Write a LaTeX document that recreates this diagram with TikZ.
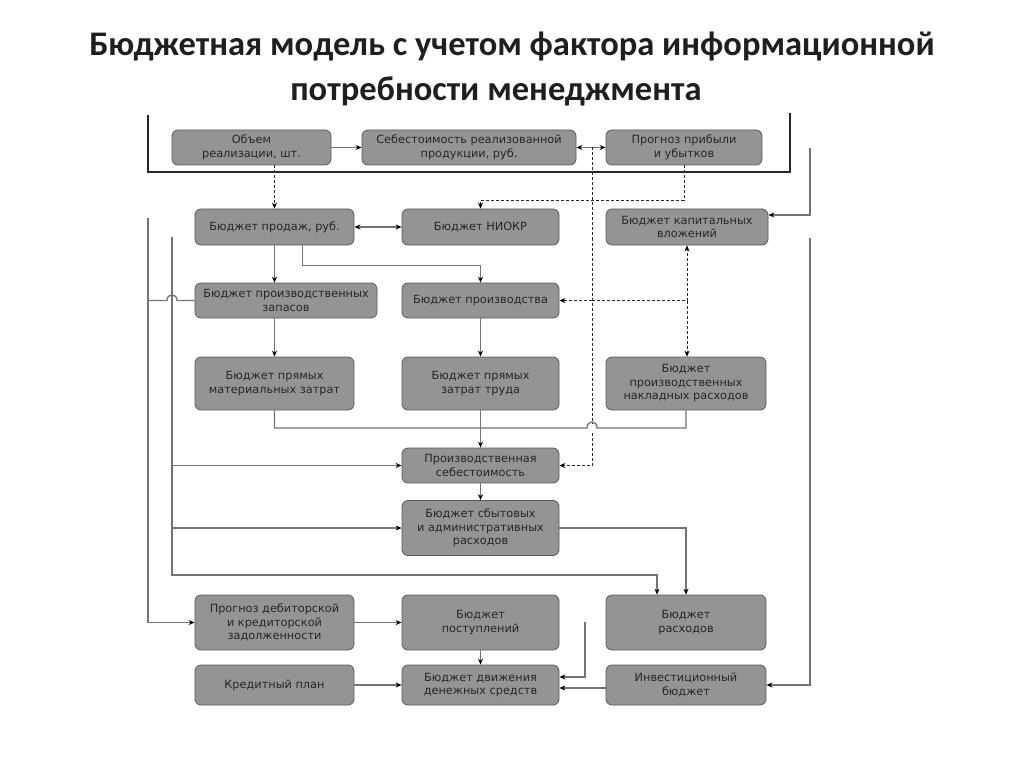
\documentclass[tikz,border=0pt]{standalone}
\usepackage{fontspec}
\setmainfont{DejaVu Sans}
\newfontfamily\titlefont{Carlito}
\usepackage{tikz}
\usetikzlibrary{arrows.meta}
\tikzstyle{blk} = [draw=black!65, fill=black!42, rounded corners=6pt, line width=0.8pt, align=center, text=black!85, font={\fontsize{11.3}{13.5}\selectfont}, inner sep=1pt]
\tikzstyle{wire} = [draw=black!55, line width=1.3pt]
\tikzstyle{dwire} = [draw=black!85, line width=0.7pt, dash pattern=on 3pt off 2pt]
\tikzstyle{frame} = [draw=black!85, line width=1.8pt]
\tikzstyle{heading} = [font={\titlefont\bfseries\fontsize{34.5}{40}\selectfont}, text=black!88]

\begin{document}
\begin{tikzpicture}[x=1pt, y=-1pt, >={Stealth[length=6pt,width=5pt,color=black]}]
  \useasboundingbox[fill=white] (0,0) rectangle (1024,767);
  \node[heading] (title1) at (512,47) {Бюджетная модель с учетом фактора информационной};
  \node[heading] (title2) at (496,91) {потребности менеджмента};

  \node[blk, minimum width=159pt, minimum height=35pt](vol) at (251.5,147.5){Объем\\реализации, шт.};
  \node[blk, minimum width=214pt, minimum height=35pt](cogs) at (469,147.5){Себестоимость реализованной\\продукции, руб.};
  \node[blk, minimum width=156pt, minimum height=35pt](pnl) at (684,147.5){Прогноз прибыли\\и убытков};
  \node[blk, minimum width=159pt, minimum height=36pt](sales) at (274.5,227){Бюджет продаж, руб.};
  \node[blk, minimum width=157pt, minimum height=36pt](rnd) at (480.5,227){Бюджет НИОКР};
  \node[blk, minimum width=162pt, minimum height=36pt](capex) at (687,227){Бюджет капитальных\\вложений};
  \node[blk, minimum width=182pt, minimum height=35pt](stock) at (286,300.5){Бюджет производственных\\запасов};
  \node[blk, minimum width=157pt, minimum height=35pt](prod) at (480.5,300.5){Бюджет производства};
  \node[blk, minimum width=159pt, minimum height=53pt](mat) at (274.5,383.5){Бюджет прямых\\материальных затрат};
  \node[blk, minimum width=157pt, minimum height=53pt](labor) at (480.5,383.5){Бюджет прямых\\затрат труда};
  \node[blk, minimum width=160pt, minimum height=53pt](ovh) at (686,383.5){Бюджет\\производственных\\накладных расходов};
  \node[blk, minimum width=157pt, minimum height=35pt](pcost) at (480.5,465.5){Производственная\\себестоимость};
  \node[blk, minimum width=157pt, minimum height=55pt](sga) at (480.5,528){Бюджет сбытовых\\и административных\\расходов};
  \node[blk, minimum width=159pt, minimum height=55pt](debt) at (274.5,622.5){Прогноз дебиторской\\и кредиторской\\задолженности};
  \node[blk, minimum width=157pt, minimum height=55pt](inc) at (480.5,622.5){Бюджет\\поступлений};
  \node[blk, minimum width=160pt, minimum height=55pt](exp) at (686,622.5){Бюджет\\расходов};
  \node[blk, minimum width=159pt, minimum height=40pt](credit) at (274.5,685){Кредитный план};
  \node[blk, minimum width=157pt, minimum height=40pt](cash) at (480.5,685){Бюджет движения\\денежных средств};
  \node[blk, minimum width=160pt, minimum height=40pt](invest) at (686,685){Инвестиционный\\бюджет};

  \coordinate (jtop) at (592,147.5);
  \coordinate (jmid) at (592,300.5);
  \coordinate (jbot) at (592,465.5);
  \coordinate (outer) at (148,218);
  \coordinate (inner) at (172,237);
  \coordinate (rtop) at (810,148);
  \coordinate (rmid) at (810,238);
  \coordinate (cashin) at (585,622);

  \draw[frame] (148,115) |- (790,172) -- (790,113);

  \draw[wire,->] (vol) -- (cogs);
  \draw[wire,->] (jtop) -- (cogs);
  \draw[wire,->] (jtop) -- (pnl);
  \draw[dwire] (jtop) -- (592,423);
  \draw[dwire,->] (592,433) |- (pcost);
  \draw[dwire,->] (vol.south -| sales.north) -- (sales.north);
  \draw[dwire,->] (pnl.south) -- ++(0,35) -| (rnd.north);
  \draw[wire,<->] (sales) -- (rnd);
  \draw[wire,->] (sales.south) -- (sales.south |- stock.north);
  \draw[wire,->] ([xshift=28pt]sales.south) -- ++(0,20) -| (prod.north);
  \draw[wire,->] (stock.south -| mat.north) -- (mat.north);
  \draw[wire,->] (prod) -- (labor);
  \draw[dwire,->] (jmid) -- (prod);
  \draw[dwire,->] (jmid) -| (capex.south);
  \draw[dwire,->] (capex.south |- jmid) -- (capex.south |- ovh.north);
  \draw[wire] (mat.south) |- (587,428) .. controls (587,420) and (597,420) .. (597,428) -| (ovh.south);
  \draw[wire,->] (labor) -- (pcost);
  \draw[wire,->] (pcost) -- (sga);
  \draw[wire,->] (sga.east) -| (exp.north);
  \draw[wire,->] (inner) -- (172,575) -| ([xshift=-29pt]exp.north);
  \draw[wire,->] (inner |- pcost.west) -- (pcost.west);
  \draw[wire,->] (inner |- sga.west) -- (sga.west);
  \draw[wire,->] (outer) |- (debt.west);
  \draw[wire] (outer |- stock.west) -- (167,300.5) .. controls (167,293) and (177,293) .. (177,300.5) -- (stock.west);
  \draw[wire,->] (debt) -- (inc);
  \draw[wire,->] (inc) -- (cash);
  \draw[wire,->] (credit) -- (cash);
  \draw[wire,->] ([yshift=-3pt]invest.west) -- ([yshift=-3pt]cash.east);
  \draw[wire,->] (cashin) |- ([yshift=8pt]cash.east);
  \draw[wire,->] (rtop) |- ([yshift=12pt]capex.east);
  \draw[wire,->] (rmid) |- (invest.east);
\end{tikzpicture}
\end{document}
